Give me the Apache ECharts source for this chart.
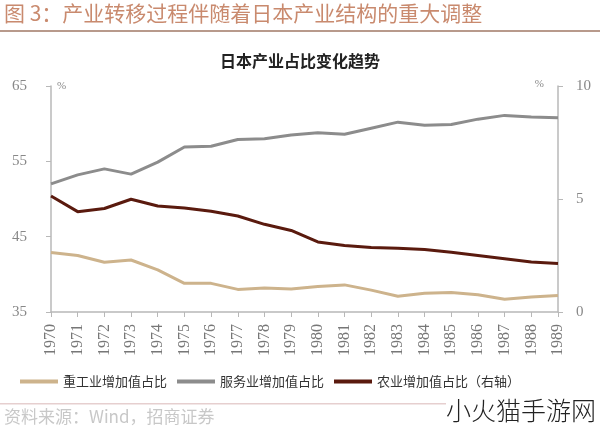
<!DOCTYPE html>
<html>
<head>
<meta charset="utf-8">
<script src="https://cdn.jsdelivr.net/npm/echarts@6/dist/echarts.min.js"></script>
<style>
html,body{margin:0;padding:0;background:#fff;}
#c{width:600px;height:433px;}
</style>
</head>
<body>
<div id="c"></div>
<script>
var years = ['1970','1971','1972','1973','1974','1975','1976','1977','1978','1979','1980','1981','1982','1983','1984','1985','1986','1987','1988','1989'];
var heavyIndustry = [42.9,42.5,41.6,41.9,40.6,38.8,38.8,38.0,38.2,38.05,38.4,38.6,37.9,37.1,37.5,37.6,37.3,36.7,37.0,37.2];
var services = [52.0,53.2,54.0,53.3,54.9,56.9,57.0,57.9,58.0,58.5,58.8,58.6,59.4,60.2,59.8,59.9,60.6,61.1,60.9,60.8];
var agriculture = [5.13,4.44,4.58,4.99,4.69,4.60,4.46,4.25,3.88,3.61,3.10,2.94,2.85,2.82,2.77,2.64,2.50,2.36,2.21,2.15];
var seriesNames = ['重工业增加值占比','服务业增加值占比','农业增加值占比（右轴）'];

var chart = echarts.init(document.getElementById('c'), null, {renderer:'canvas'});
var axisColor = '#b8b8b8';
var serif = '"Liberation Serif", "DejaVu Serif", serif';
var cjk = '"Noto Sans CJK SC", sans-serif';
chart.setOption({
  animation:false,
  backgroundColor:'#fff',
  title:{
    text:'日本产业占比变化趋势',
    left:'center', top:48,
    textStyle:{fontFamily:cjk, fontSize:16, fontWeight:'bold', color:'#222'}
  },
  legend:{
    left:15, top:370,
    itemWidth:38, itemHeight:4, itemGap:10,
    icon:'rect',
    textStyle:{fontFamily:cjk, fontSize:13, color:'#333'},
    data:seriesNames
  },
  grid:{left:51, right:42, top:86, bottom:121, containLabel:false},
  xAxis:{
    type:'category', data:years, boundaryGap:false,
    axisLine:{lineStyle:{color:axisColor, width:1.5}},
    axisTick:{show:true, length:5, alignWithLabel:true, lineStyle:{color:axisColor}},
    axisLabel:{rotate:90, margin:12, fontFamily:serif, fontSize:16, color:'#777', interval:0}
  },
  yAxis:[
    {
      type:'value', min:35, max:65, interval:10,
      name:'%', nameLocation:'end', nameGap:0,
      nameTextStyle:{fontFamily:serif, fontSize:11, color:'#888', align:'left', verticalAlign:'bottom', padding:[0,0,-6,6]},
      axisLine:{show:true, lineStyle:{color:axisColor, width:1.5}},
      axisTick:{show:true, length:5, lineStyle:{color:axisColor}},
      splitLine:{show:false},
      axisLabel:{margin:24, fontFamily:serif, fontSize:15, color:'#888'}
    },
    {
      type:'value', min:0, max:10, interval:5,
      name:'%', nameLocation:'end', nameGap:0,
      nameTextStyle:{fontFamily:serif, fontSize:11, color:'#888', align:'right', verticalAlign:'bottom', padding:[0,14,-4,0]},
      axisLine:{show:true, lineStyle:{color:axisColor, width:1.5}},
      axisTick:{show:true, length:5, lineStyle:{color:axisColor}},
      splitLine:{show:false},
      axisLabel:{margin:18, fontFamily:serif, fontSize:15, color:'#888'}
    }
  ],
  series:[
    {name:seriesNames[0], type:'line', data:heavyIndustry, yAxisIndex:0, symbol:'none',
     lineStyle:{color:'#cdb38c', width:3}, itemStyle:{color:'#cdb38c'}},
    {name:seriesNames[1], type:'line', data:services, yAxisIndex:0, symbol:'none',
     lineStyle:{color:'#8c8c8c', width:3}, itemStyle:{color:'#8c8c8c'}},
    {name:seriesNames[2], type:'line', data:agriculture, yAxisIndex:1, symbol:'none',
     lineStyle:{color:'#5a1a0e', width:3}, itemStyle:{color:'#5a1a0e'}}
  ],
  graphic:[
    {type:'text', left:4, top:3, style:{text:'图 3：产业转移过程伴随着日本产业结构的重大调整', fill:'#c98a6e', font:'21px "Noto Sans CJK SC", sans-serif'}},
    {type:'rect', shape:{x:0, y:30, width:600, height:2}, style:{fill:'#b89a8c'}},
    {type:'rect', shape:{x:0, y:403, width:600, height:1.5}, style:{fill:'#e6cfcf'}},
    {type:'text', left:4, top:408, style:{text:'资料来源：Wind，招商证券', fill:'#c8c8c8', font:'17px "Noto Sans CJK SC", sans-serif'}},
    {type:'rect', shape:{x:446, y:398, width:154, height:35}, style:{fill:'#fff'}},
    {type:'text', left:446, top:398, style:{text:'小火猫手游网', fill:'#222', font:'300 25px "Noto Sans CJK SC", sans-serif'}}
  ]
});
</script>
</body>
</html>
